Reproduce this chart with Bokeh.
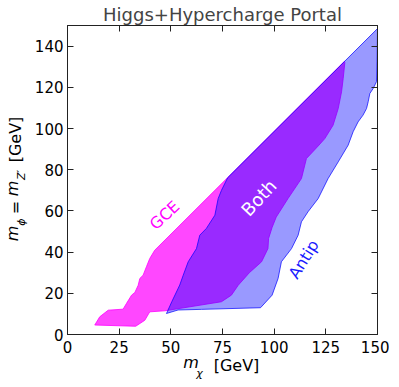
import numpy as np
from bokeh.plotting import figure
from bokeh.models import LinearAxis, FixedTicker, Label, Range1d
from bokeh.embed import file_html
from bokeh.resources import INLINE

# ---- data ----
gce_x = [13.2, 15.6, 19.7, 26.9, 28.5, 31.0, 32.6, 34.2, 35.0, 36.6, 38.2, 39.8, 42.2,
         134.0, 134.2, 133.4, 132.6, 131.0, 128.5, 124.5, 121.3, 115.6, 113.2, 106.7,
         101.0, 99.0, 97.3, 97.0, 93.9, 88.0, 82.6, 79.3, 74.5, 47.1, 39.8, 37.4, 33.0]
gce_y = [4.6, 8.6, 11.8, 12.3, 15.0, 19.1, 20.4, 23.9, 27.2, 28.8, 32.9, 36.9, 40.9,
         132.6, 132.0, 124.3, 117.8, 109.7, 101.6, 95.1, 91.5, 85.4, 75.7, 66.0,
         57.0, 52.0, 46.6, 41.7, 35.3, 30.0, 23.9, 19.1, 15.9, 11.5, 11.0, 6.9, 4.0]

antip_x = [47.9, 53.5, 64.8, 93.4, 99.0, 101.9, 103.5, 108.4, 111.6, 113.2, 116.4, 121.3,
           126.1, 131.0, 135.8, 138.2, 140.6, 143.0, 144.7, 145.5, 146.3, 147.9, 149.5,
           149.8, 150.0, 77.5, 74.5, 72.9, 71.3, 67.2, 64.0, 62.4, 58.4, 56.0, 54.3, 50.5]
antip_y = [10.2, 11.9, 12.2, 13.0, 19.1, 27.2, 35.3, 41.7, 48.2, 54.7, 59.6, 66.0,
           75.7, 83.8, 91.9, 98.4, 103.2, 106.5, 109.7, 113.0, 117.0, 119.4, 122.7,
           132.4, 148.5, 76.1, 70.0, 66.0, 57.9, 51.5, 48.2, 41.7, 35.3, 28.8, 24.0, 16.0]

x_ticks = [0, 25, 50, 75, 100, 125, 150]
y_ticks = [0, 20, 40, 60, 80, 100, 120, 140]
region_names = ["GCE", "Both", "Antip"]
title_text = "Higgs+Hypercharge Portal"

FONT = "DejaVu Sans"
AXC = "#222222"

# page-pixel -> data helpers (frame: x 66..376, y 27..336 on page)
def dx(px):
    return round((px - 66.0) * 150.0 / 310.0, 2)

def dy(py):
    return round((336.0 - py) * 150.0 / 309.0, 2)

p = figure(frame_width=310, frame_height=309, x_range=Range1d(0, 150), y_range=Range1d(0, 150),
           output_backend="svg", toolbar_location=None,
           min_border_left=58, min_border_right=12, min_border_top=19, min_border_bottom=43)
p.title.text = title_text
p.title.align = "center"
p.title.text_font = FONT
p.title.text_font_size = "18px"
p.title.text_font_style = "normal"
p.title.standoff = 2
p.xgrid.visible = False
p.ygrid.visible = False
p.outline_line_color = AXC
p.background_fill_color = "white"
p.border_fill_color = "white"

p.add_layout(LinearAxis(), "above")
p.add_layout(LinearAxis(), "right")

main_axes = [p.below[0], p.left[0], p.above[0], p.right[0]]
for ax in (p.below[0], p.above[0]):
    ax.ticker = FixedTicker(ticks=x_ticks)
for ax in (p.left[0], p.right[0]):
    ax.ticker = FixedTicker(ticks=y_ticks)

for ax in main_axes:
    ax.major_tick_in = 6
    ax.major_tick_out = 0
    ax.minor_tick_in = 0
    ax.minor_tick_out = 0
    ax.axis_line_color = AXC
    ax.major_tick_line_color = AXC
    ax.major_label_text_font = FONT
    ax.major_label_text_font_size = "15px"
    ax.major_label_text_color = "black"

p.below[0].major_label_standoff = 6
p.left[0].major_label_standoff = 4
for ax in (p.above[0], p.right[0]):
    ax.major_label_text_font_size = "1px"
    ax.major_label_text_color = None
    ax.major_label_standoff = 0


def text_axis(place, positions, texts, size, style, standoff, orientation="horizontal"):
    """Axis label pieces drawn as the tick labels of an extra, line-less axis."""
    ax = LinearAxis(ticker=FixedTicker(ticks=positions),
                    major_label_overrides={pos: t for pos, t in zip(positions, texts)},
                    axis_line_color=None, major_tick_line_color=None,
                    minor_tick_line_color=None, major_tick_in=0, major_tick_out=0,
                    minor_tick_in=0, minor_tick_out=0,
                    major_label_text_font=FONT, major_label_text_font_size=size,
                    major_label_text_font_style=style, major_label_text_color="black",
                    major_label_standoff=standoff, major_label_orientation=orientation)
    p.add_layout(ax, place)


# x axis label  m_chi [GeV]
text_axis("below", [dx(189.5)], ["m"], "16px", "italic", -3)
text_axis("below", [dx(235.0)], ["[GeV]"], "16px", "normal", -19)
text_axis("below", [dx(198.0)], ["χ"], "11px", "italic", -11)

# y axis label  m_phi = m_Z' [GeV]
text_axis("left", [dy(223.5), dy(176.5)], ["ϕ", "Z′"], "11px", "italic", 3, "vertical")
text_axis("left", [dy(209.0), dy(141.0)], ["=", "[GeV]"], "16px", "normal", -13, "vertical")
text_axis("left", [dy(235.0), dy(190.0)], ["m", "m"], "16px", "italic", -19, "vertical")

# regions
p.patch(gce_x, gce_y, fill_color="#ff00ff", fill_alpha=0.72,
        line_color="#ff00ff", line_alpha=0.8, line_width=1)
p.patch(antip_x, antip_y, fill_color="#0000ff", fill_alpha=0.4,
        line_color="#0000ff", line_alpha=0.7, line_width=1)

# region labels
p.add_layout(Label(x=47.0, y=57.9, text=region_names[0], angle=np.radians(43),
                   text_align="center", text_baseline="middle", text_color="#ff00ff",
                   text_font=FONT, text_font_size="16px"))
p.add_layout(Label(x=92.6, y=66.4, text=region_names[1], angle=np.radians(47),
                   text_align="center", text_baseline="middle", text_color="white",
                   text_font=FONT, text_font_size="18px"))
p.add_layout(Label(x=114.3, y=36.5, text=region_names[2], angle=np.radians(58),
                   text_align="center", text_baseline="middle", text_color="#1a1aff",
                   text_font=FONT, text_font_size="16px"))

open("out.html", "w").write(file_html(p, INLINE))
